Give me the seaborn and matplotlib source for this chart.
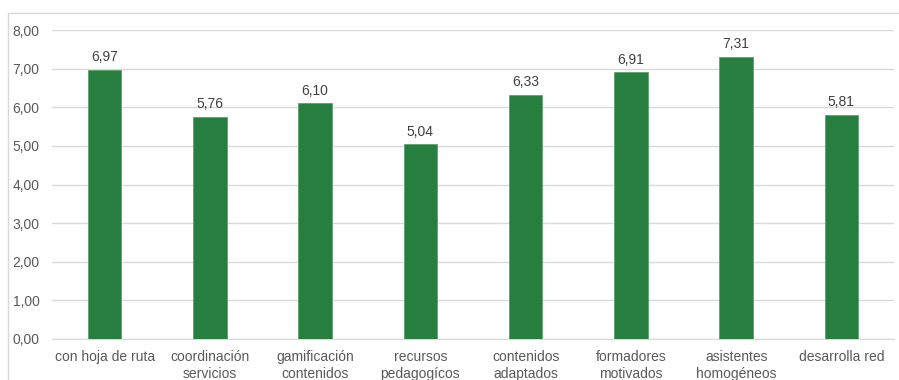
import matplotlib
matplotlib.use("Agg")
import matplotlib.pyplot as plt
import seaborn as sns
import pandas as pd
from matplotlib.patches import Rectangle

# --- Data ---
categories = ['con hoja de ruta', 'coordinación\nservicios', 'gamificación\ncontenidos',
              'recursos\npedagogícos', 'contenidos\nadaptados', 'formadores\nmotivados',
              'asistentes\nhomogéneos', 'desarrolla red']
values = [6.97, 5.76, 6.10, 5.04, 6.33, 6.91, 7.31, 5.81]
y_ticks = [0, 1, 2, 3, 4, 5, 6, 7, 8]

df = pd.DataFrame({'Categoria': categories, 'Valor': values})

# --- Style ---
sns.set_style('white')
plt.rcParams['font.family'] = ['Liberation Sans', 'DejaVu Sans']
text_color = '#595959'
bar_color = '#267F3E'
grid_color = '#D9D9D9'

fig = plt.figure(figsize=(8.99, 3.8), dpi=100)
ax = fig.add_axes([52 / 899, 1 - 339 / 380, (894 - 52) / 899, (339 - 30) / 380])

sns.barplot(data=df, x='Categoria', y='Valor', color=bar_color, width=0.32,
            edgecolor='#5FA070', linewidth=0.6, saturation=1, ax=ax, zorder=3)

# value labels above bars
for i, v in enumerate(values):
    ax.annotate(f'{v:.2f}'.replace('.', ','), xy=(i, v), xytext=(0, 4),
                textcoords='offset points', ha='center', va='bottom',
                fontsize=10, color='#404040')

ax.set_ylim(0, 8)
ax.set_xlim(-0.5, len(categories) - 0.5)
ax.set_yticks(y_ticks)
ax.set_yticklabels([f'{t:.2f}'.replace('.', ',') for t in y_ticks])
ax.yaxis.grid(True, color=grid_color, linewidth=1, zorder=0)
ax.set_axisbelow(True)
for s in ['top', 'right', 'left']:
    ax.spines[s].set_visible(False)
ax.spines['bottom'].set_color(grid_color)
ax.tick_params(axis='both', length=0, labelsize=10, colors=text_color)
ax.tick_params(axis='x', pad=8)
ax.tick_params(axis='y', pad=9)
for lbl in ax.get_xticklabels():
    lbl.set_linespacing(1.25)
ax.set_xlabel('')
ax.set_ylabel('')

# outer chart frame
fig.patches.append(Rectangle((8 / 899, -0.05), 1.0, 1 - 13 / 380 + 0.05,
                             transform=fig.transFigure, fill=False,
                             edgecolor='#D9D9D9', linewidth=1))

fig.savefig('out.png', dpi=100)
